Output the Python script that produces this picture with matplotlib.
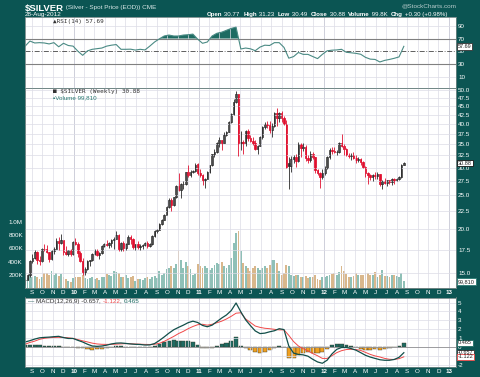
import matplotlib
matplotlib.use("Agg")
import matplotlib.pyplot as plt
import matplotlib.dates as mdates
from matplotlib.ticker import NullLocator
import numpy as np
import pandas as pd

plt.rcParams['font.family'] = ['Liberation Sans', 'DejaVu Sans']

# weekly bars, Monday of each week
weeks = pd.date_range('2009-08-17', periods=159, freq='W-MON')

opens = [14.30, 14.35, 14.85, 16.25, 16.55, 17.20, 16.35, 16.20, 17.60, 17.55,
         17.25, 16.40, 17.30, 17.60, 18.50, 18.30, 18.60, 17.20, 17.00, 17.40,
         16.95, 18.40, 18.10, 17.10, 16.20, 15.05, 15.40, 16.20, 16.30, 17.00,
         17.30, 16.90, 17.10, 17.95, 18.20, 18.00, 18.30, 18.60, 18.80, 19.30,
         17.60, 18.30, 17.65, 18.20, 19.00, 18.75, 17.80, 18.10, 17.80, 17.90,
         18.00, 18.30, 17.90, 18.10, 19.10, 19.80, 19.90, 20.70, 21.30, 22.00,
         23.10, 24.30, 23.50, 24.70, 26.60, 25.90, 26.90, 26.90, 29.20, 28.50,
         29.10, 29.40, 30.80, 28.90, 28.60, 27.60, 27.90, 29.20, 30.50, 32.80,
         33.20, 35.30, 35.90, 35.20, 37.30, 38.00, 40.50, 42.60, 46.10, 48.60,
         35.30, 35.40, 35.20, 38.30, 36.40, 35.80, 35.30, 33.90, 34.60, 36.70,
         39.30, 40.10, 39.70, 38.40, 39.40, 42.90, 41.60, 42.90, 41.60, 39.90,
         30.90, 30.40, 31.70, 32.10, 31.40, 35.00, 34.20, 34.40, 31.90, 31.60,
         32.90, 32.10, 29.50, 29.00, 28.20, 28.90, 29.90, 32.20, 33.60, 33.50,
         33.20, 33.30, 35.30, 34.60, 34.00, 32.60, 32.30, 32.50, 32.00, 31.50,
         31.70, 31.20, 30.20, 28.90, 28.60, 28.30, 28.50, 28.40, 28.70, 26.90,
         27.50, 27.20, 27.60, 27.30, 27.80, 27.60, 27.90, 28.20, 30.60]
highs = [14.45, 14.95, 16.35, 16.95, 17.50, 17.30, 16.80, 17.70, 18.10, 18.00,
         17.25, 17.50, 17.75, 18.90, 19.00, 19.45, 18.60, 17.90, 17.50, 17.60,
         18.50, 18.85, 18.40, 17.30, 16.60, 15.60, 16.30, 16.35, 17.10, 17.60,
         17.60, 17.20, 18.00, 18.30, 18.60, 18.40, 18.70, 19.00, 19.80, 19.40,
         18.40, 18.50, 18.30, 19.20, 19.30, 18.90, 18.20, 18.50, 18.20, 18.20,
         18.40, 18.50, 18.30, 19.20, 19.90, 20.00, 20.80, 21.40, 22.10, 23.30,
         24.50, 24.50, 24.80, 26.80, 28.90, 27.10, 27.50, 29.20, 30.60, 29.50,
         29.60, 31.00, 31.00, 29.70, 28.80, 28.10, 29.30, 30.60, 32.90, 33.90,
         35.40, 36.70, 36.00, 37.90, 38.20, 40.70, 43.10, 47.00, 49.80, 48.70,
         38.30, 36.10, 38.50, 38.80, 37.20, 36.70, 35.90, 34.80, 36.90, 39.50,
         40.60, 40.90, 40.80, 40.20, 43.30, 44.30, 43.30, 43.50, 42.10, 41.00,
         32.20, 32.30, 32.70, 32.80, 35.40, 35.20, 35.30, 34.80, 32.50, 33.50,
         33.20, 32.10, 29.70, 29.20, 29.80, 30.40, 32.30, 34.10, 34.40, 34.40,
         33.70, 35.50, 37.50, 35.00, 34.20, 33.00, 33.00, 33.30, 32.70, 32.10,
         31.90, 31.30, 30.30, 29.10, 28.70, 28.70, 29.20, 29.10, 28.80, 27.60,
         28.10, 27.60, 27.70, 28.00, 28.10, 28.00, 28.40, 30.70, 31.20]
lows = [13.85, 14.30, 14.65, 16.05, 16.45, 15.95, 15.85, 16.15, 17.30, 17.10,
        16.10, 16.35, 16.95, 17.55, 17.50, 18.15, 16.85, 16.85, 16.80, 16.80,
        16.90, 18.00, 16.70, 16.15, 14.80, 14.80, 15.30, 15.70, 16.20, 16.90,
        16.80, 16.50, 17.00, 17.85, 17.90, 17.70, 17.80, 17.60, 18.70, 17.30,
        17.30, 17.30, 17.50, 18.10, 18.20, 17.60, 17.40, 17.60, 17.40, 17.60,
        17.90, 17.70, 17.80, 18.00, 19.00, 19.50, 19.85, 20.60, 21.20, 21.90,
        23.00, 22.50, 23.30, 24.50, 25.80, 24.60, 26.10, 26.80, 28.20, 28.20,
        28.90, 29.20, 28.50, 28.30, 26.80, 26.30, 27.80, 28.90, 30.40, 32.10,
        33.10, 34.30, 33.60, 35.20, 36.90, 38.00, 40.30, 42.50, 46.00, 32.30,
        33.70, 32.90, 34.60, 35.80, 35.40, 34.80, 33.70, 32.90, 34.50, 36.30,
        38.80, 38.90, 37.60, 36.60, 39.30, 39.50, 40.60, 40.50, 39.60, 29.90,
        26.10, 29.20, 30.90, 30.20, 31.20, 32.20, 33.40, 31.40, 30.90, 31.10,
        31.80, 29.00, 28.60, 26.20, 27.90, 28.60, 29.80, 31.80, 32.90, 33.00,
        32.60, 33.10, 34.30, 32.50, 32.30, 31.90, 31.60, 31.80, 31.00, 31.20,
        30.50, 30.00, 28.30, 26.90, 27.60, 27.50, 27.90, 27.90, 26.60, 26.10,
        26.90, 26.50, 26.90, 26.80, 26.90, 27.50, 27.60, 28.10, 30.50]
closes = [14.35, 14.85, 16.25, 16.55, 17.20, 16.35, 16.20, 17.60, 17.55, 17.25,
          16.40, 17.30, 17.60, 18.50, 18.30, 18.60, 17.20, 17.00, 17.40, 16.95,
          18.40, 18.10, 17.10, 16.20, 15.05, 15.40, 16.20, 16.30, 17.00, 17.30,
          16.90, 17.10, 17.95, 18.20, 18.00, 18.30, 18.60, 18.80, 19.30, 17.60,
          18.30, 17.65, 18.20, 19.00, 18.75, 17.80, 18.10, 17.80, 17.90, 18.00,
          18.30, 17.90, 18.10, 19.10, 19.80, 19.90, 20.70, 21.30, 22.00, 23.10,
          24.30, 23.50, 24.70, 26.60, 25.90, 26.90, 26.90, 29.10, 28.50, 29.10,
          29.40, 30.60, 28.90, 28.60, 27.60, 27.90, 29.20, 30.50, 32.80, 33.20,
          35.30, 35.90, 35.20, 37.30, 38.00, 40.50, 42.60, 46.10, 48.60, 35.30,
          35.40, 35.20, 38.30, 36.40, 35.80, 35.30, 34.00, 34.60, 36.70, 39.30,
          40.10, 39.70, 38.40, 39.40, 42.90, 41.60, 42.90, 41.60, 39.90, 30.10,
          30.40, 31.70, 32.10, 31.40, 35.00, 34.20, 34.40, 31.90, 31.60, 32.90,
          32.10, 29.50, 29.00, 28.20, 28.90, 29.90, 32.20, 33.60, 33.50, 33.20,
          33.30, 35.30, 34.60, 34.00, 32.60, 32.30, 32.50, 32.00, 31.50, 31.70,
          31.20, 30.20, 28.90, 28.60, 28.30, 28.50, 28.40, 28.70, 26.90, 27.50,
          27.20, 27.60, 27.30, 27.80, 27.60, 27.90, 28.20, 30.60, 30.88]
# volume in thousands
volumes = [120, 150, 200, 170, 180, 160, 140, 170, 220, 230,
           200, 250, 190, 220, 180, 210, 170, 130, 100, 90,
           150, 170, 160, 170, 190, 150, 140, 150, 160, 130,
           150, 120, 160, 170, 210, 200, 180, 250, 240, 230,
           170, 160, 190, 150, 170, 180, 110, 130, 140, 120,
           150, 160, 140, 170, 180, 150, 250, 200, 220,
           290, 310, 330, 300, 360, 570, 420, 300, 390, 340, 290, 190, 210,
           360, 340, 310, 330, 300, 280, 310, 350, 380, 360, 400, 330, 300, 350, 450, 680, 830,
           860, 560, 380, 330, 300, 250, 300, 330, 300, 270, 300, 340, 300, 350, 420, 420, 380, 250, 200, 220,
           350, 330, 200, 180, 190, 200, 170, 160, 180, 150, 160, 170, 200, 130, 120,
           160, 170, 180, 200, 210, 220, 200, 240, 330, 250, 210, 170, 170, 180, 230, 200, 190, 200,
           230, 220, 190, 200, 240, 170, 190, 270, 180, 180, 170, 200, 190, 180, 170, 230, 100]

# indicators read every second week
rsi_vals = [58, 66, 63, 63.5, 63, 61.5, 63.5, 57, 62.5, 59,
            58, 50, 43.5, 50.5, 53, 54, 55, 58, 59.5, 60.5,
            53, 53, 53.2, 51.8, 53, 52, 58, 64.5, 69.5, 74,
            75.5, 74, 74, 75.5, 76, 77, 69, 62.5, 64.5, 74,
            78.3, 80, 83, 86, 88, 53.5, 55, 53.8, 50.8, 56.5,
            59.5, 59, 63.5, 63.5, 56, 39, 41.5, 48, 45, 45,
            41.6, 38.3, 45, 50.6, 51.6, 52, 53, 48.3, 47.5, 46.6,
            45.2, 40.3, 37.5, 37, 33, 35.5, 37, 38.8, 41, 57.69]
macd_vals = [0.55, 0.7, 0.88, 1.02, 1.07, 1.1, 1.15, 1.19, 1.05, 0.95,
             0.95, 0.74, 0.55, 0.3, 0.1, 0.06, 0.1, 0.19, 0.33, 0.42,
             0.44, 0.39, 0.33, 0.29, 0.27, 0.21, 0.22, 0.37, 0.72, 1.12,
             1.55, 1.93, 2.2, 2.45, 2.73, 2.9, 2.75, 2.42, 2.27, 2.45,
             2.85, 3.25, 3.6, 4.1, 4.95, 3.95, 3.05, 2.4, 1.8, 1.5,
             1.55, 1.7, 1.82, 2.05, 1.95, 0.1, -0.7, -0.85, -0.9, -1.05,
             -1.4, -1.7, -1.85, -1.5, -0.8, -0.28, -0.07, -0.07, -0.19, -0.37,
             -0.65, -0.95, -1.15, -1.3, -1.45, -1.51, -1.51, -1.42, -1.18, -0.657]
signal_vals = [0.3, 0.5, 0.65, 0.85, 0.97, 1.03, 1.07, 1.08, 1.07, 1.02,
               0.95, 0.82, 0.68, 0.56, 0.42, 0.33, 0.29, 0.28, 0.29, 0.31,
               0.34, 0.37, 0.35, 0.32, 0.3, 0.28, 0.27, 0.3, 0.4, 0.62,
               0.9, 1.18, 1.5, 1.75, 2.05, 2.3, 2.5, 2.55, 2.45, 2.55,
               2.72, 2.9, 3.15, 3.45, 3.8, 3.85, 3.15, 2.75, 2.35, 2.2,
               2.1, 2.05, 1.98, 1.92, 1.92, 1.3, 0.6, 0.1, -0.2, -0.45,
               -0.75, -1.0, -1.3, -1.3, -1.0, -0.65, -0.43, -0.3, -0.27, -0.3,
               -0.4, -0.62, -0.85, -1.02, -1.14, -1.3, -1.4, -1.42, -1.33, -1.122]

price_ticks = [15.0, 17.5, 20.0, 22.5, 25.0, 27.5, 30.0, 32.5, 35.0, 37.5, 40.0, 42.5, 45.0, 47.5, 50.0]
vol_ticks = [200, 400, 600, 800, 1000]
vol_labels = ['200K', '400K', '600K', '800K', '1.0M']

bg = '#0b5553'
grid_c = '#dcdce6'
red = '#e0102f'
teal = '#1e6b62'

o = np.array(opens); h = np.array(highs); l = np.array(lows); c = np.array(closes)
prev = np.r_[o[0], c[:-1]]
xd = mdates.date2num(weeks) - 5
xi = xd[::2]
rsi = np.array(rsi_vals)
macd = np.array(macd_vals)
sig = np.array(signal_vals)
hist = macd - sig

fig = plt.figure(figsize=(4.8, 3.77), dpi=100, facecolor=bg)
W, H = 480.0, 377.0

def rect(x0, y0, x1, y1):
    return [x0 / W, 1 - y1 / H, (x1 - x0) / W, (y1 - y0) / H]

ax_rsi = fig.add_axes(rect(25, 17, 456, 87.5))
ax_vol = fig.add_axes(rect(25, 88, 456, 288), sharex=ax_rsi)
ax_px = fig.add_axes(rect(25, 88, 456, 288), sharex=ax_rsi)
ax_macd = fig.add_axes(rect(25, 297.5, 456, 367), sharex=ax_rsi)
ax_px.set_facecolor('none')

x0 = mdates.date2num(pd.Timestamp('2009-09-01')) - 20.4
x1 = x0 + 431 / 0.3424
months = pd.date_range('2009-09-01', '2013-01-01', freq='MS')
mt = mdates.date2num(months)
mlabels = [f"{d.year % 100:02d}" if d.month == 1 else 'JFMAMJJASOND'[d.month - 1] for d in months]
years = [m for m, d in zip(mt, months) if d.month == 1]

for ax in (ax_rsi, ax_vol, ax_px, ax_macd):
    ax.set_xlim(x0, x1)
    ax.tick_params(length=0, labelsize=4.5, labelcolor='white', pad=1.5)
    for s in ax.spines.values():
        s.set_color('#6f8584')
        s.set_linewidth(0.6)

ax_rsi.set_xticks(mt)
for ax in (ax_rsi, ax_px, ax_macd):
    ax.grid(True, axis='x', color=grid_c, lw=0.5)
    for yv in years:
        ax.axvline(yv, color='#a4a8b8', lw=0.6, zorder=0.5)
ax_rsi.tick_params(labelbottom=False)
ax_vol.tick_params(labelbottom=False)

# RSI panel
ax_rsi.set_ylim(-7.3, 104)
ax_rsi.yaxis.tick_right()
ax_rsi.set_yticks([10, 30, 50, 70, 90])
for lv in (10, 90):
    ax_rsi.axhline(lv, color=grid_c, lw=0.5)
ax_rsi.axhline(70, color='#808080', lw=0.8)
ax_rsi.axhline(30, color='#808080', lw=0.8)
ax_rsi.axhline(50, color='#454545', lw=0.6, dashes=(6, 2, 1, 2))
ax_rsi.fill_between(xi, 70, rsi, where=rsi > 70, interpolate=True, color=teal, lw=0)
ax_rsi.plot(xi, rsi, color='#4a8a84', lw=0.8)
ax_rsi.text(28 / 431, 1 - 5 / 70.5, '\u25b2RSI(14) 57.69', transform=ax_rsi.transAxes,
            fontsize=4.3, family='DejaVu Sans Mono', color='#333333', va='center')

# volume (behind candles)
vcols = np.where(c >= prev, '#8fc0b7', '#d9b78c')
ax_vol.bar(xd, volumes, width=5.5, color=vcols, edgecolor='none')
ax_vol.set_ylim(0, 3030)
ax_vol.set_yticks(vol_ticks)
ax_vol.set_yticklabels(vol_labels)

# price candles
ax_px.set_yscale('log')
ax_px.set_ylim(13.59, 50.66)
ax_px.yaxis.tick_right()
ax_px.set_yticks(price_ticks)
ax_px.set_yticklabels([f"{p:.1f}" for p in price_ticks])
ax_px.yaxis.set_minor_locator(NullLocator())
ax_px.grid(True, axis='y', color=grid_c, lw=0.5)
ax_px.set_xticks(mt)
ax_px.set_xticklabels(mlabels)
edge = np.where(c >= prev, '#2a2a2a', red)
face = np.where(c > o, 'white', edge)
ax_px.vlines(xd, l, h, colors=edge, lw=0.6)
body_lo = np.minimum(o, c)
body_h = np.maximum(np.abs(c - o), 0.04)
ax_px.bar(xd, body_h, bottom=body_lo, width=4.6, color=face, edgecolor=edge, lw=0.55)
ax_px.text(28 / 431, 1 - 4 / 200, '\u25a0 $SILVER (Weekly) 30.88', transform=ax_px.transAxes,
           fontsize=4.3, family='DejaVu Sans Mono', color='#333333', va='center')
ax_px.text(28 / 431, 1 - 10 / 200, '\u25aaVolume 99,810', transform=ax_px.transAxes,
           fontsize=4.5, color='#2a7a72', va='center')

# MACD panel
ax_macd.set_ylim(-2.27, 5.57)
ax_macd.yaxis.tick_right()
ax_macd.set_yticks([-2, -1, 0, 1, 2, 3, 4, 5])
ax_macd.set_yticklabels(['-2', '', '0', '1', '2', '3', '4', '5'])
ax_macd.grid(True, axis='y', color=grid_c, lw=0.5)
ax_macd.set_xticks(mt)
ax_macd.set_xticklabels(mlabels)
hcols = np.where(hist >= 0, teal, '#f0a020')
ax_macd.bar(xi, hist, width=12, color=hcols, edgecolor='#3a3a2a', lw=0.3)
ax_macd.axhline(0, color='#808080', lw=0.5)
ax_macd.plot(xi, sig, color='#f04848', lw=0.7)
ax_macd.plot(xi, macd, color='#124f4a', lw=0.9)

for ax in (ax_px, ax_macd):
    for t in ax.get_xticklabels():
        if t.get_text().isdigit():
            t.set_fontweight('bold')

renderer = fig.canvas.get_renderer()

def chain(x, y, parts, **kw):
    for s, style in parts:
        t = fig.text(x, y, s, **{**kw, **style})
        x += t.get_window_extent(renderer).width / fig.bbox.width
    return x

dark = {'color': '#333333'}
chain(28 / W, 1 - 301.5 / H,
      [('\u2014 ', {'color': '#124f4a'}), ('MACD(12,26,9) -0.657', dark), (', ', dark),
       ('-1.122', {'color': '#f04848'}), (', ', dark), ('0.465', {'color': teal})],
      fontsize=4.5, va='center')

# value tags on the right edge
def tag(ax, y, text, ec):
    ax.annotate(text, xy=(1.0, y), xycoords=ax.get_yaxis_transform(), xytext=(1.5, 0),
                textcoords='offset points', ha='left', va='center', fontsize=4.0,
                color='#222222', annotation_clip=False,
                bbox=dict(boxstyle='square,pad=0.12', fc='white', ec=ec, lw=0.6))

tag(ax_rsi, 57.69, '57.69', '#333333')
tag(ax_px, 30.88, '30.88', '#111111')
tag(ax_vol, 99.81, '99,810', '#2a7a72')
tag(ax_macd, 0.465, '0.465', teal)
tag(ax_macd, -0.657, '-0.657', '#333333')
tag(ax_macd, -1.122, '-1.122', '#f04848')

# header
chain(25 / W, 1 - 8 / H,
      [('$SILVER', {'fontsize': 6.8, 'fontweight': 'bold', 'color': 'white'}),
       (' (Silver - Spot Price (EOD)) CME', {'fontsize': 4.6, 'color': '#d8e6e6'})],
      va='center')
fig.text(25 / W, 1 - 14.5 / H, '28-Aug-2012', fontsize=4.6, color='white', va='center')
b = {'fontweight': 'bold', 'color': 'white'}
n = {'color': 'white'}
chain(207 / W, 1 - 14.5 / H,
      [('Open', b), (' 30.77  ', n), ('High', b), (' 31.23  ', n), ('Low', b), (' 30.49  ', n),
       ('Close', b), (' 30.88  ', n), ('Volume', b), (' 99.8K  ', n), ('Chg', b),
       (' +0.30 (+0.98%)', n)],
      fontsize=4.4, va='center')
fig.text(456 / W, 1 - 6 / H, '@StockCharts.com', fontsize=4.6, color='#b8cccc',
         ha='right', va='center')

fig.savefig('out.png', dpi=100, facecolor=bg)
